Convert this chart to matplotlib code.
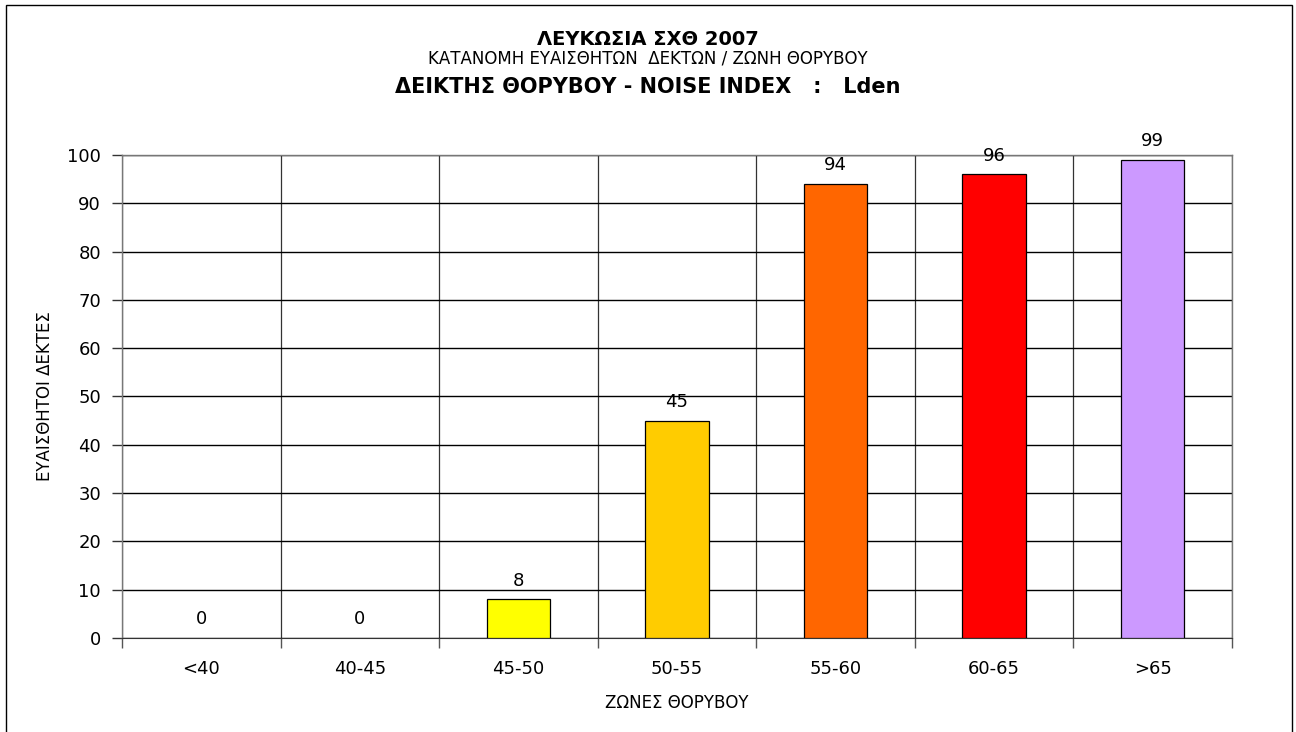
import matplotlib.pyplot as plt
from matplotlib.ticker import FixedLocator
from matplotlib.patches import Rectangle

# Data
zones = ['<40', '40-45', '45-50', '50-55', '55-60', '60-65', '>65']
receivers = [0, 0, 8, 45, 94, 96, 99]
colors = ['#FFFFFF', '#FFFFFF', '#FFFF00', '#FFCC00', '#FF6600', '#FF0000', '#CC99FF']

plt.rcParams['font.family'] = ['DejaVu Sans']

fig = plt.figure(figsize=(12.96, 7.32), dpi=100)
ax = fig.add_axes([0.0941, 0.1284, 0.8565, 0.6599])

x = list(range(len(zones)))
bars = ax.bar(x, receivers, width=0.4, color=colors, edgecolor='black', linewidth=0.9, zorder=3)
for i, b in enumerate(bars):
    if receivers[i] == 0:
        b.set_visible(False)
    ax.annotate(str(receivers[i]), (x[i], receivers[i]), xytext=(0, 7), textcoords='offset points',
                ha='center', va='bottom', fontsize=13)

ax.set_xlim(-0.5, len(zones) - 0.5)
ax.set_ylim(0, 100)
ax.set_yticks(range(0, 101, 10))
ax.set_xticks(x)
ax.set_xticklabels(zones, fontsize=13)
ax.tick_params(axis='y', labelsize=13, length=7, width=1, color='#333333', pad=8)
ax.tick_params(axis='x', which='major', length=0, pad=16)
ax.xaxis.set_minor_locator(FixedLocator([i - 0.5 for i in range(len(zones) + 1)]))
ax.tick_params(axis='x', which='minor', length=7, width=1, color='#555555')

ax.grid(axis='y', color='black', linewidth=1, zorder=0)
ax.grid(axis='x', which='minor', color='#333333', linewidth=0.9, zorder=0)
for s in ['left', 'right', 'top']:
    ax.spines[s].set_color('#777777')
    ax.spines[s].set_linewidth(1)
ax.spines['bottom'].set_color('#333333')

ax.set_ylabel('ΕΥΑΙΣΘΗΤΟΙ ΔΕΚΤΕΣ', fontsize=12, va='center')
ax.yaxis.set_label_coords(-0.0694, 0.5)
ax.set_xlabel('ΖΩΝΕΣ ΘΟΡΥΒΟΥ', fontsize=12, va='center')
ax.xaxis.set_label_coords(0.5, -0.1346)

fig.text(0.5, 0.9467, 'ΛΕΥΚΩΣΙΑ ΣΧΘ 2007', ha='center', va='center', fontsize=14, fontweight='bold')
fig.text(0.5, 0.9194, 'ΚΑΤΑΝΟΜΗ ΕΥΑΙΣΘΗΤΩΝ  ΔΕΚΤΩΝ / ΖΩΝΗ ΘΟΡΥΒΟΥ', ha='center', va='center', fontsize=12)
fig.text(0.5, 0.8818, 'ΔΕΙΚΤΗΣ ΘΟΡΥΒΟΥ - NOISE INDEX   :   Lden', ha='center', va='center', fontsize=15, fontweight='bold')

# outer chart border
fig.patches.append(Rectangle((0.0046, -0.01), 0.9926, 1.003, transform=fig.transFigure,
                             fill=False, edgecolor='black', linewidth=1))

fig.savefig('out.png', dpi=100)
